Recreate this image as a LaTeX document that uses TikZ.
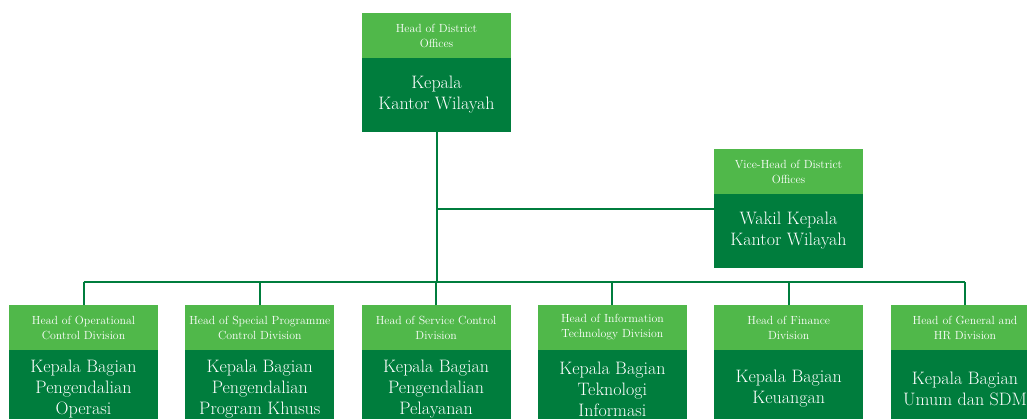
\documentclass[tikz,border=0pt]{standalone}
\usetikzlibrary{positioning}
\definecolor{lightgrn}{RGB}{80,184,74}
\definecolor{darkgrn}{RGB}{0,125,61}
\tikzset{
 titlebox/.style={fill=lightgrn,text=white,minimum width=149pt,minimum height=45pt,align=center,inner sep=0pt,outer sep=0pt,font=\fontsize{11.8}{15}\selectfont},
 namebox/.style={fill=darkgrn,text=white,minimum width=149pt,minimum height=74pt,align=center,inner sep=0pt,outer sep=0pt,font=\fontsize{18}{21}\selectfont},
 link/.style={draw=darkgrn,line width=2pt}
}
\begin{document}
\begin{tikzpicture}[x=1pt,y=1pt]
\useasboundingbox (0,0) rectangle (1027,-418);
\clip (0,0) rectangle (1027,-418);
\node[titlebox,anchor=north] (head-en) at (436.5,-13) {Head of District\\Offices};
\node[namebox,below=0pt of head-en] (head-id) {Kepala\\Kantor Wilayah};
\node[titlebox,anchor=north] (vice-en) at (788.5,-149) {Vice-Head of District\\Offices};
\node[namebox,below=0pt of vice-en] (vice-id) {Wakil Kepala\\Kantor Wilayah};
\foreach \n/\en/\id in {1/{Head of Operational\\Control Division}/{Kepala Bagian\\Pengendalian\\Operasi},
 2/{Head of Special Programme\\Control Division}/{Kepala Bagian\\Pengendalian\\Program Khusus},
 3/{Head of Service Control\\Division}/{Kepala Bagian\\Pengendalian\\Pelayanan},
 4/{Head of Information\\Technology Division}/{Kepala Bagian\\Teknologi\\Informasi},
 5/{Head of Finance\\Division}/{Kepala Bagian\\Keuangan},
 6/{Head of General and\\HR Division}/{Kepala Bagian\\Umum dan SDM}}{
\node[titlebox,anchor=north] (div\n-en) at ({83.5+(\n-1)*176.3},-305) {\en};
\node[namebox,minimum height=78pt,below=0pt of div\n-en] (div\n-id) {\id};}
\coordinate (vicejoin) at (436.5,-209);
\coordinate (bus) at (436.5,-282);
\draw[link] (head-id) -- (bus);
\draw[link] (vicejoin) -- (vicejoin -| vice-id.west);
\draw[link] (bus -| div1-en.north) -- (bus -| div6-en.north);
\foreach \n in {1,...,6}{
\draw[link] (div\n-en) -- (div\n-en |- bus);}
\end{tikzpicture}
\end{document}
